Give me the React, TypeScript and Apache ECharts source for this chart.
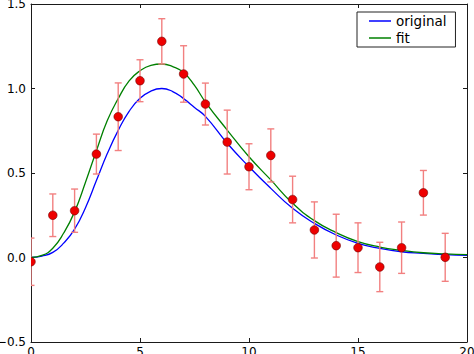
import React, { useEffect, useRef } from "react";
import * as echarts from "echarts";

const pointX = [0, 1, 2, 3, 4, 5, 6, 7, 8, 9, 10, 11, 12, 13, 14, 15, 16, 17, 18, 19];
const pointY = [-0.025, 0.25, 0.277, 0.612, 0.833, 1.046, 1.279, 1.086, 0.908, 0.683, 0.537, 0.604, 0.343, 0.163, 0.07, 0.058, -0.056, 0.058, 0.383, 0.001];
const pointErr = [0.14, 0.126, 0.128, 0.118, 0.2, 0.124, 0.134, 0.167, 0.124, 0.189, 0.136, 0.157, 0.138, 0.166, 0.186, 0.147, 0.146, 0.152, 0.132, 0.142];

const curveX = [0, 0.5, 1, 1.5, 2, 2.5, 3, 3.5, 4, 4.5, 5, 5.5, 6, 6.5, 7, 7.5, 8, 9, 10, 11, 12, 13, 14, 15, 16, 17, 18, 19, 20];
const originalY = [0, 0.008, 0.03, 0.085, 0.168, 0.295, 0.455, 0.615, 0.752, 0.865, 0.942, 0.985, 1.0, 0.982, 0.94, 0.888, 0.835, 0.676, 0.537, 0.409, 0.291, 0.202, 0.133, 0.084, 0.054, 0.034, 0.025, 0.017, 0.013];
const fitY = [0, 0.012, 0.055, 0.145, 0.27, 0.445, 0.632, 0.81, 0.94, 1.045, 1.105, 1.137, 1.145, 1.13, 1.095, 1.018, 0.92, 0.754, 0.596, 0.459, 0.321, 0.218, 0.147, 0.094, 0.062, 0.042, 0.028, 0.021, 0.017];

const xTicks = { min: 0, max: 20, interval: 5 };
const yTicks = { min: -0.5, max: 1.5, interval: 0.5 };

const FONT = "DejaVu Sans";
const FRAME = "#1a1a1a";

export default function App() {
  const ref = useRef<HTMLDivElement>(null);
  useEffect(() => {
    if (!ref.current) return;
    const chart = echarts.init(ref.current, null, { renderer: "svg" });
    const pts = pointX.map((x, i) => [x, pointY[i], pointErr[i]]);
    const axisCommon = {
      type: "value" as const,
      axisLine: { show: true, onZero: false, lineStyle: { color: FRAME, width: 1 } },
      axisTick: { show: true, inside: true, length: 4, lineStyle: { color: FRAME, width: 1 } },
      splitLine: { show: false },
    };
    const yFmt = (v: number) => (v < 0 ? "\u2212" : "") + Math.abs(v).toFixed(1);
    chart.setOption({
      animation: false,
      grid: { left: 31, right: 7, top: 4, bottom: 12, containLabel: false, outerBoundsMode: "none" },
      legend: {
        data: ["original", "fit"],
        orient: "vertical",
        left: 357,
        top: 12,
        icon: "rect",
        itemWidth: 22,
        itemHeight: 1.5,
        itemGap: 3,
        itemTextGap: 7,
        padding: [2, 9, 2, 12],
        borderColor: "#222",
        borderWidth: 1,
        borderRadius: 0,
        backgroundColor: "#fff",
        textStyle: { fontFamily: FONT, fontSize: 13.5, color: "#000", lineHeight: 14 },
      },
      xAxis: [
        {
          ...axisCommon,
          ...xTicks,
          position: "bottom",
          axisLabel: { color: "#000", fontFamily: FONT, fontSize: 12, margin: 4, showMinLabel: true, showMaxLabel: true },
        },
        {
          ...axisCommon,
          ...xTicks,
          position: "top",
          axisLabel: { show: false },
        },
      ],
      yAxis: [
        {
          ...axisCommon,
          ...yTicks,
          position: "left",
          axisLabel: { color: "#000", fontFamily: FONT, fontSize: 12, margin: 5, formatter: yFmt, showMinLabel: true, showMaxLabel: true },
        },
        {
          ...axisCommon,
          ...yTicks,
          position: "right",
          axisLabel: { show: false },
        },
      ],
      series: [
        {
          name: "original",
          type: "line",
          data: curveX.map((x, i) => [x, originalY[i]]),
          showSymbol: false,
          smooth: true,
          color: "#0000ff",
          lineStyle: { color: "#0000ff", width: 1.3 },
          z: 2,
        },
        {
          name: "fit",
          type: "line",
          data: curveX.map((x, i) => [x, fitY[i]]),
          showSymbol: false,
          smooth: true,
          color: "#008000",
          lineStyle: { color: "#008000", width: 1.3 },
          z: 3,
        },
        {
          name: "errors",
          type: "custom",
          clip: true,
          z: 4,
          data: pts,
          encode: { x: 0, y: 1 },
          renderItem: (params: any, api: any) => {
            const x = api.value(0);
            const y = api.value(1);
            const e = api.value(2);
            const top = api.coord([x, y + e]);
            const bot = api.coord([x, y - e]);
            const hw = 3.5;
            const style = { stroke: "#f28080", lineWidth: 1.4 };
            return {
              type: "group",
              children: [
                { type: "line", shape: { x1: top[0], y1: top[1], x2: bot[0], y2: bot[1] }, style },
                { type: "line", shape: { x1: top[0] - hw, y1: top[1], x2: top[0] + hw, y2: top[1] }, style },
                { type: "line", shape: { x1: bot[0] - hw, y1: bot[1], x2: bot[0] + hw, y2: bot[1] }, style },
              ],
            };
          },
        },
        {
          name: "data",
          type: "custom",
          clip: true,
          z: 5,
          data: pts,
          encode: { x: 0, y: 1 },
          renderItem: (params: any, api: any) => {
            const c = api.coord([api.value(0), api.value(1)]);
            return {
              type: "circle",
              shape: { cx: c[0], cy: c[1], r: 4.3 },
              style: { fill: "#ee0000", stroke: "#700000", lineWidth: 0.6 },
            };
          },
        },
      ],
    });
    return () => chart.dispose();
  }, []);
  return (
    <div
      ref={ref}
      style={{ position: "fixed", left: 0, top: 0, width: 474, height: 354, background: "#fff" }}
    />
  );
}
